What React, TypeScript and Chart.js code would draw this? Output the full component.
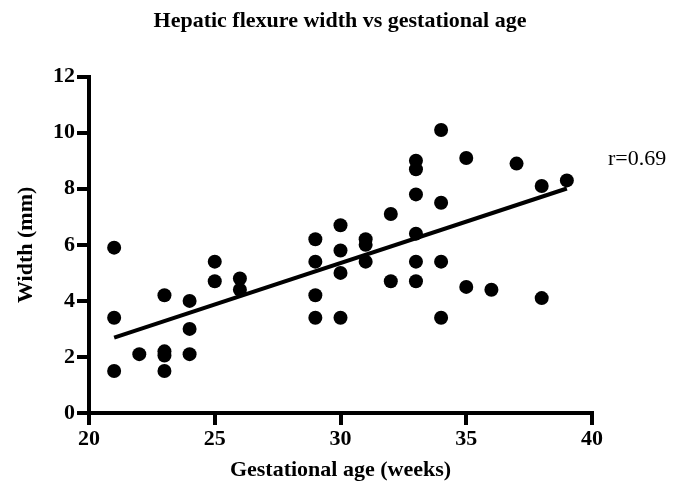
import React, { useEffect, useRef } from "react";
import { Chart, registerables } from "chart.js";

Chart.register(...registerables);

const titleText = "Hepatic flexure width vs gestational age";
const xAxisTitle = "Gestational age (weeks)";
const yAxisTitle = "Width (mm)";
const rLabel = "r=0.69";

// Gestational age (weeks) of each measurement
const ageWeeks = [
  21, 21, 21,
  22,
  23, 23, 23, 23,
  24, 24, 24,
  25, 25,
  26, 26,
  29, 29, 29, 29,
  30, 30, 30, 30,
  31, 31, 31,
  32, 32,
  33, 33, 33, 33, 33, 33,
  34, 34, 34, 34,
  35, 35,
  36,
  37,
  38, 38,
  39,
];
// Hepatic flexure width (mm)
const widthMm = [
  5.9, 3.4, 1.5,
  2.1,
  4.2, 2.2, 2.05, 1.5,
  4.0, 3.0, 2.1,
  5.4, 4.7,
  4.8, 4.4,
  6.2, 5.4, 4.2, 3.4,
  6.7, 5.8, 5.0, 3.4,
  6.2, 6.0, 5.4,
  7.1, 4.7,
  9.0, 8.7, 7.8, 6.4, 5.4, 4.7,
  10.1, 7.5, 5.4, 3.4,
  9.1, 4.5,
  4.4,
  8.9,
  8.1, 4.1,
  8.3,
];
// Regression line end points
const fitX = [21, 39];
const fitY = [2.69, 8.01];

const xTicks = [20, 25, 30, 35, 40];
const yTicks = [0, 2, 4, 6, 8, 10, 12];

const FONT = "'Liberation Serif', 'Times New Roman', serif";

export default function App() {
  const ref = useRef<HTMLCanvasElement | null>(null);

  useEffect(() => {
    if (!ref.current) return;
    const rPlugin = {
      id: "rLabel",
      afterDraw(chart: any) {
        const { ctx, chartArea, scales } = chart;
        ctx.save();
        ctx.fillStyle = "#000";
        ctx.font = `22px ${FONT}`;
        ctx.textAlign = "left";
        ctx.textBaseline = "middle";
        ctx.fillText(rLabel, chartArea.right + 16, scales.y.getPixelForValue(9.05));
        ctx.restore();
      },
    };
    const chart = new Chart(ref.current, {
      type: "scatter",
      data: {
        datasets: [
          {
            type: "line",
            data: fitX.map((x, i) => ({ x, y: fitY[i] })),
            borderColor: "#000",
            borderWidth: 4,
            pointRadius: 0,
            fill: false,
          } as any,
          {
            data: ageWeeks.map((x, i) => ({ x, y: widthMm[i] })),
            backgroundColor: "#000",
            borderWidth: 0,
            pointRadius: 7,
          },
        ],
      },
      plugins: [rPlugin],
      options: {
        responsive: false,
        animation: false,
        events: [],
        color: "#000",
        layout: { padding: 0 },
        plugins: {
          legend: { display: false },
          tooltip: { enabled: false },
          title: {
            display: true,
            text: titleText,
            color: "#000",
            font: { family: FONT, size: 22, weight: "bold", lineHeight: 1.2 },
            padding: { top: 7.8, bottom: 42.5 },
          },
        },
        scales: {
          x: {
            type: "linear",
            min: 20,
            max: 40,
            afterBuildTicks: (s: any) => {
              s.ticks = xTicks.map((v) => ({ value: v }));
            },
            afterFit: (s: any) => {
              s.height = 77;
            },
            grid: {
              drawOnChartArea: false,
              drawTicks: true,
              tickLength: 12,
              tickWidth: 4,
              tickColor: "#000",
              lineWidth: 4,
              color: "#000",
            },
            border: { display: true, color: "#000", width: 4 },
            ticks: {
              color: "#000",
              padding: 1,
              font: { family: FONT, size: 22, weight: "bold" },
            },
            title: {
              display: true,
              text: xAxisTitle,
              color: "#000",
              font: { family: FONT, size: 22, weight: "bold", lineHeight: 1.2 },
              padding: { top: 0, bottom: 6 },
            },
          },
          y: {
            type: "linear",
            min: 0,
            max: 12,
            afterBuildTicks: (s: any) => {
              s.ticks = yTicks.map((v) => ({ value: v }));
            },
            afterFit: (s: any) => {
              s.width = 89;
            },
            grid: {
              drawOnChartArea: false,
              drawTicks: true,
              tickLength: 12,
              tickWidth: 4,
              tickColor: "#000",
              lineWidth: 4,
              color: "#000",
            },
            border: { display: true, color: "#000", width: 4 },
            ticks: {
              color: "#000",
              padding: 2,
              font: { family: FONT, size: 22, weight: "bold" },
            },
            title: {
              display: true,
              text: yAxisTitle,
              color: "#000",
              font: { family: FONT, size: 22, weight: "bold", lineHeight: 1.2 },
              padding: { top: 13, bottom: 0 },
            },
          },
          yRightSpace: {
            type: "linear",
            position: "right",
            display: true,
            grid: { display: false, drawTicks: false },
            border: { display: false },
            ticks: { display: false },
            afterFit: (s: any) => {
              s.width = 88;
            },
          },
        },
      } as any,
    });
    return () => chart.destroy();
  }, []);

  return (
    <div style={{ width: 680, height: 490, margin: -8, overflow: "hidden" }}>
      <canvas ref={ref} width={680} height={490} style={{ display: "block" }} />
    </div>
  );
}
